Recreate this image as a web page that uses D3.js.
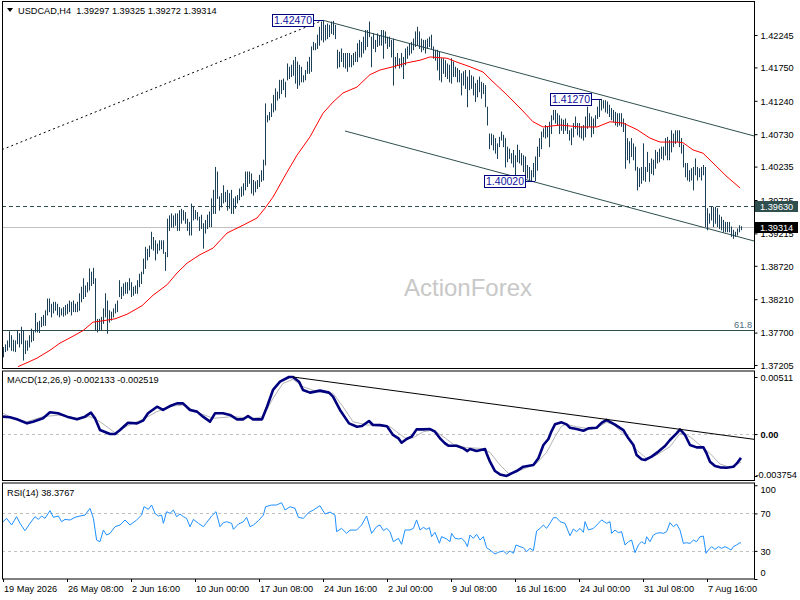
<!DOCTYPE html>
<html>
<head>
<meta charset="utf-8">
<script src="https://cdn.jsdelivr.net/npm/d3@7"></script>
<style>
  body { margin: 0; background: #fff; }
  svg { display: block; font-family: "Liberation Sans", Arial, sans-serif; }
</style>
</head>
<body>
<svg id="chart" width="800" height="600"></svg>
<script>
// ---- data (USDCAD H4, one entry per bar) ----
var highs = [
  1.3748,1.3752,1.3758,1.3772,1.3766,1.3759,1.3758,1.3774,1.3769,1.3779,
  1.3774,1.3758,1.3758,1.3766,1.3776,1.3774,1.3800,1.3786,1.3788,1.3794,
  1.3797,1.3804,1.3822,1.3822,1.3814,1.3817,1.3817,1.3814,1.3809,1.3807,
  1.3809,1.3812,1.3814,1.3819,1.3817,1.3819,1.3814,1.3817,1.3830,1.3840,
  1.3853,1.3842,1.3847,1.3868,1.3863,1.3869,1.3853,1.3791,1.3791,1.3794,
  1.3807,1.3830,1.3819,1.3804,1.3802,1.3807,1.3814,1.3819,1.3850,1.3840,
  1.3845,1.3847,1.3847,1.3853,1.3847,1.3840,1.3842,1.3850,1.3860,1.3863,
  1.3883,1.3901,1.3898,1.3903,1.3924,1.3916,1.3911,1.3906,1.3911,1.3911,
  1.3911,1.3893,1.3944,1.3949,1.3952,1.3949,1.3952,1.3952,1.3957,1.3959,
  1.3957,1.3954,1.3944,1.3939,1.3967,1.3962,1.3957,1.3954,1.3947,1.3950,
  1.3937,1.3942,1.3950,1.3955,1.3975,1.3988,1.4023,1.4016,1.3978,1.3983,
  1.3995,1.3985,1.3988,1.3983,1.3988,1.3975,1.3978,1.3980,1.3990,1.3993,
  1.3998,1.4016,1.4016,1.4016,1.4013,1.4003,1.4001,1.4003,1.4011,1.4018,
  1.4034,1.4120,1.4102,1.4107,1.4120,1.4133,1.4143,1.4138,1.4156,1.4156,
  1.4158,1.4153,1.4181,1.4176,1.4179,1.4186,1.4191,1.4184,1.4179,1.4176,
  1.4163,1.4171,1.4184,1.4191,1.4207,1.4214,1.4212,1.4225,1.4237,1.4245,
  1.4247,1.4240,1.4242,1.4240,1.4245,1.4246,1.4240,1.4202,1.4199,1.4204,
  1.4197,1.4197,1.4197,1.4197,1.4194,1.4197,1.4199,1.4212,1.4217,1.4214,
  1.4222,1.4232,1.4232,1.4245,1.4222,1.4227,1.4217,1.4227,1.4224,1.4232,
  1.4232,1.4230,1.4222,1.4222,1.4217,1.4219,1.4191,1.4197,1.4189,1.4197,
  1.4191,1.4204,1.4207,1.4212,1.4214,1.4219,1.4230,1.4237,1.4230,1.4219,
  1.4217,1.4217,1.4219,1.4222,1.4225,1.4207,1.4202,1.4202,1.4199,1.4189,
  1.4189,1.4186,1.4181,1.4179,1.4189,1.4184,1.4176,1.4174,1.4171,1.4166,
  1.4169,1.4171,1.4161,1.4171,1.4163,1.4161,1.4151,1.4156,1.4161,1.4153,
  1.4151,1.4148,1.4115,1.4074,1.4074,1.4072,1.4067,1.4059,1.4069,1.4077,
  1.4072,1.4067,1.4054,1.4051,1.4044,1.4049,1.4041,1.4057,1.4049,1.4044,
  1.4041,1.4039,1.4026,1.4023,1.4018,1.4029,1.4039,1.4054,1.4067,1.4077,
  1.4082,1.4087,1.4085,1.4092,1.4102,1.4110,1.4110,1.4105,1.4102,1.4097,
  1.4095,1.4097,1.4090,1.4079,1.4082,1.4090,1.4100,1.4090,1.4090,1.4085,
  1.4087,1.4100,1.4115,1.4105,1.4100,1.4097,1.4102,1.4115,1.4125,1.4127,
  1.4125,1.4125,1.4123,1.4118,1.4113,1.4110,1.4107,1.4105,1.4105,1.4105,
  1.4097,1.4090,1.4067,1.4062,1.4067,1.4059,1.4054,1.4023,1.4021,1.4023,
  1.4059,1.4023,1.4046,1.4029,1.4036,1.4034,1.4049,1.4046,1.4051,1.4054,
  1.4054,1.4067,1.4069,1.4064,1.4079,1.4074,1.4079,1.4079,1.4079,1.4067,
  1.4057,1.4029,1.4029,1.4018,1.4021,1.4023,1.4036,1.4023,1.4021,1.4023,
  1.4026,1.4023,1.3960,1.3952,1.3962,1.3962,1.3962,1.3960,1.3950,1.3947,
  1.3942,1.3939,1.3939,1.3939,1.3932,1.3927,1.3924,1.3929,1.3934,1.39325
];
var lows = [
  1.3733,1.3741,1.3743,1.3748,1.3743,1.3742,1.3741,1.3753,1.3748,1.3753,
  1.3728,1.3738,1.3743,1.3748,1.3756,1.3758,1.3771,1.3771,1.3770,1.3779,
  1.3781,1.3781,1.3797,1.3802,1.3794,1.3800,1.3804,1.3797,1.3794,1.3797,
  1.3795,1.3797,1.3799,1.3802,1.3797,1.3802,1.3802,1.3802,1.3804,1.3817,
  1.3822,1.3825,1.3832,1.3835,1.3842,1.3845,1.3774,1.3771,1.3774,1.3774,
  1.3784,1.3794,1.3769,1.3786,1.3789,1.3794,1.3800,1.3802,1.3825,1.3822,
  1.3827,1.3830,1.3830,1.3835,1.3825,1.3827,1.3830,1.3830,1.3840,1.3845,
  1.3860,1.3868,1.3881,1.3886,1.3898,1.3896,1.3881,1.3891,1.3896,1.3898,
  1.3891,1.3865,1.3886,1.3926,1.3931,1.3931,1.3934,1.3926,1.3926,1.3937,
  1.3942,1.3937,1.3926,1.3919,1.3919,1.3942,1.3944,1.3942,1.3926,1.3929,
  1.3899,1.3922,1.3929,1.3932,1.3932,1.3952,1.3952,1.3975,1.3957,1.3962,
  1.3968,1.3970,1.3957,1.3960,1.3952,1.3952,1.3960,1.3968,1.3973,1.3978,
  1.3980,1.3988,1.3993,1.3998,1.3983,1.3980,1.3985,1.3990,1.3993,1.4001,
  1.4003,1.4026,1.4092,1.4095,1.4100,1.4107,1.4110,1.4125,1.4128,1.4135,
  1.4141,1.4130,1.4156,1.4158,1.4161,1.4163,1.4151,1.4143,1.4148,1.4153,
  1.4153,1.4156,1.4166,1.4166,1.4169,1.4202,1.4202,1.4204,1.4209,1.4217,
  1.4214,1.4217,1.4219,1.4222,1.4227,1.4225,1.4219,1.4174,1.4176,1.4184,
  1.4176,1.4174,1.4169,1.4176,1.4176,1.4179,1.4184,1.4184,1.4191,1.4191,
  1.4197,1.4202,1.4207,1.4222,1.4176,1.4204,1.4199,1.4207,1.4209,1.4209,
  1.4189,1.4212,1.4204,1.4207,1.4191,1.4148,1.4174,1.4179,1.4174,1.4176,
  1.4158,1.4179,1.4189,1.4194,1.4197,1.4202,1.4207,1.4209,1.4204,1.4199,
  1.4202,1.4197,1.4204,1.4207,1.4204,1.4189,1.4186,1.4171,1.4156,1.4153,
  1.4166,1.4161,1.4158,1.4153,1.4151,1.4161,1.4161,1.4153,1.4153,1.4133,
  1.4148,1.4143,1.4115,1.4141,1.4143,1.4133,1.4123,1.4130,1.4138,1.4128,
  1.4135,1.4115,1.4087,1.4051,1.4057,1.4049,1.4044,1.4036,1.4054,1.4064,
  1.4054,1.4023,1.4031,1.4036,1.4029,1.4023,1.4008,1.4031,1.4029,1.4026,
  1.4016,1.4011,1.4006,1.4003,1.4002,1.4008,1.4002,1.4018,1.4039,1.4051,
  1.4069,1.4067,1.4069,1.4054,1.4074,1.4095,1.4090,1.4087,1.4074,1.4079,
  1.4074,1.4079,1.4074,1.4064,1.4057,1.4069,1.4082,1.4072,1.4069,1.4067,
  1.4064,1.4069,1.4082,1.4085,1.4069,1.4074,1.4085,1.4097,1.4100,1.4110,
  1.4113,1.4107,1.4105,1.4100,1.4095,1.4092,1.4087,1.4085,1.4087,1.4085,
  1.4077,1.4021,1.4034,1.4029,1.4039,1.4034,1.4018,1.3988,1.3993,1.3998,
  1.4003,1.4001,1.4016,1.4001,1.4013,1.4011,1.4021,1.4029,1.4031,1.4036,
  1.4034,1.4041,1.4034,1.4034,1.4046,1.4054,1.4059,1.4062,1.4054,1.4044,
  1.4023,1.4008,1.4003,1.4001,1.4003,1.3988,1.4011,1.4003,1.4008,1.4003,
  1.4011,1.3932,1.3927,1.3937,1.3942,1.3932,1.3937,1.3932,1.3929,1.3927,
  1.3924,1.3924,1.3924,1.3924,1.3917,1.3914,1.3917,1.3919,1.3924,1.39272
];

// moving average, [bar, price]
var maLine = [[7.5,1.3718],[12,1.3724],[17,1.3731],[23.5,1.3743],[28.5,1.3754],[33.5,1.3762],[40,1.3773],[45,1.3786],[50,1.3788],[56,1.3791],[62,1.3798],[69.5,1.3811],[75,1.3827],[82,1.3843],[87,1.3861],[92,1.3876],[98.5,1.3889],[105,1.3899],[112,1.3922],[120,1.3934],[127,1.3945],[131,1.3960],[135,1.3977],[142,1.4015],[147,1.4041],[153.5,1.4069],[160,1.4105],[165,1.4122],[170,1.4136],[177,1.4145],[183.5,1.4164],[188.5,1.4171],[195,1.4176],[202,1.4182],[208.5,1.4186],[213.5,1.4191],[222,1.4189],[227,1.4183],[233.5,1.4176],[240,1.4168],[245,1.4153],[252,1.4133],[258.5,1.4113],[265,1.4092],[270,1.4084],[278.5,1.4087],[288.5,1.4084],[297,1.4084],[303.5,1.4092],[310,1.4090],[317,1.4080],[323.5,1.4067],[328.5,1.4061],[337,1.4061],[340,1.4060],[345,1.4049],[350,1.4044],[355,1.4029],[362,1.4008],[368.5,1.3991]];

// MACD(12,26,9), [bar, value]
var macdMain = [[0,0.00156],[3.5,0.00150],[7,0.00132],[12,0.00096],[15,0.00111],[20,0.00141],[23.5,0.00195],[27.5,0.00186],[32,0.00156],[37,0.00132],[41,0.00156],[44,0.00192],[46,0.00141],[48.5,0.00036],[53.5,0.0000],[56,0.0000],[58.5,0.00036],[62.5,0.00102],[67,0.00096],[70,0.00120],[72.5,0.00186],[77,0.00245],[80,0.00216],[83.5,0.00251],[87,0.00275],[90,0.00275],[93.5,0.00216],[97,0.00201],[100,0.00156],[103.5,0.00111],[106,0.00186],[110,0.00186],[113.5,0.00171],[117,0.00132],[120,0.00132],[122.5,0.00162],[125,0.00132],[129.5,0.00132],[132,0.00245],[135,0.00395],[138.5,0.00469],[143,0.00511],[145,0.00511],[148,0.00469],[150,0.00395],[153.5,0.00371],[158.5,0.00389],[163,0.00371],[165,0.00335],[168.5,0.00216],[173,0.00096],[177,0.00066],[179.5,0.00072],[183,0.00117],[185,0.00081],[188.5,0.00080],[192,0.00070],[195,-0.00008],[197.7,-0.00038],[199.3,-0.00077],[201.8,-0.00044],[204.3,-0.00023],[206.8,0.00042],[210.2,0.00042],[213.5,0.00045],[216,0.00021],[218.5,-0.00038],[221,-0.00083],[222.7,-0.00104],[226.8,-0.00104],[230.2,-0.00128],[232.2,-0.00152],[233.5,-0.00134],[236.8,-0.00152],[241,-0.00134],[241.8,-0.00173],[243.5,-0.00247],[246,-0.00331],[248.5,-0.00361],[251.8,-0.00375],[254.3,-0.00352],[256.8,-0.00331],[260.2,-0.00292],[265.2,-0.00277],[267.7,-0.00217],[270.2,-0.00098],[272.7,-0.00044],[274.3,0.00027],[276,0.00087],[279.3,0.00105],[281.8,0.00087],[283.5,0.00057],[286.8,0.00045],[290.2,0.00030],[292.7,0.00051],[296.8,0.00057],[299.3,0.00100],[301.8,0.00128],[303.5,0.00110],[306,0.00085],[310.2,0.00036],[312.7,-0.00038],[315.2,-0.00098],[316.8,-0.00188],[319.3,-0.00226],[321,-0.00232],[324.3,-0.00202],[327.7,-0.00157],[331,-0.00107],[333.5,-0.00053],[336.8,0.00006],[338.5,0.00042],[341,-0.00008],[343.5,-0.00098],[346.8,-0.00119],[350.2,-0.00119],[351.8,-0.00173],[353.5,-0.00247],[356,-0.00286],[358.5,-0.00298],[361.8,-0.00301],[365.2,-0.00292],[366.8,-0.00265],[369,-0.00213]];
var macdSignal = [[0,0.00186],[5,0.00141],[12,0.00111],[20,0.00156],[28.5,0.00171],[37,0.00141],[43.5,0.00156],[48.5,0.00111],[56,0.00012],[62,0.00072],[70,0.00132],[77,0.00201],[85,0.00251],[90,0.00260],[98.5,0.00186],[105,0.00141],[115,0.00156],[125,0.00141],[130,0.00156],[135,0.00320],[140,0.00454],[145,0.00490],[150,0.00424],[157,0.00380],[165,0.00365],[170,0.00245],[175,0.00111],[182,0.00081],[188.5,0.00080],[193.5,0.00066],[196.8,0.00021],[201.8,-0.00044],[205.2,-0.00032],[210.2,0.00021],[215.2,0.00036],[220.2,-0.00023],[225.2,-0.00092],[231.8,-0.00122],[238.5,-0.00128],[243.5,-0.00164],[248.5,-0.00277],[252.7,-0.00352],[256.8,-0.00337],[261.8,-0.00301],[266.8,-0.00262],[271.8,-0.00164],[276,-0.00023],[279.3,0.00072],[281.8,0.00087],[286.8,0.00066],[291.8,0.00051],[296.8,0.00057],[301.8,0.00105],[305.2,0.00085],[311.8,-0.00024],[316.8,-0.00143],[321.8,-0.00218],[326.8,-0.00188],[333.5,-0.00113],[338.5,0.00006],[343.5,-0.00024],[348.5,-0.00098],[353.5,-0.00173],[358.5,-0.00268],[363.5,-0.00298],[369,-0.00252]];

// RSI(14), [bar, value]
var rsiLine = [[0,61.1],[1.8,64.7],[4.3,57.6],[6.8,66.5],[8.5,59.4],[11,51.5],[13.5,59.4],[16,66.5],[17.7,63.6],[19.3,67.2],[21,64.7],[23.5,72.9],[25.2,65.8],[27.7,67.2],[29.3,61.1],[31,63.6],[33.5,62.9],[36,65.8],[38.5,67.2],[41,68.2],[43.5,75.4],[45.2,64.7],[46.8,41.6],[48.5,39.8],[50.2,52.2],[51.8,46.9],[53.5,48.7],[56,55.8],[58.5,57.6],[61,62.9],[63.5,57.6],[66.8,62.9],[69.3,68.2],[70.5,77.1],[72.7,74.3],[74.3,78.9],[76,70.0],[77.7,67.2],[79.3,68.2],[80.2,59.4],[81.8,71.8],[83.5,70.0],[85.2,73.6],[86.8,66.5],[88.5,69.3],[90.2,66.5],[91.8,64.7],[93.5,55.8],[95.2,63.6],[97.7,59.4],[100.2,55.8],[101.8,60.1],[104.3,67.2],[106.5,71.8],[108.5,55.8],[110.2,60.1],[111.8,61.1],[114.3,59.4],[115.2,53.0],[117.7,58.6],[120.2,61.1],[121.8,65.8],[123.5,55.8],[125.2,57.6],[127.7,62.2],[130.2,68.2],[131.3,77.1],[134.3,78.9],[136.8,78.9],[139.3,81.4],[141,73.6],[143.5,77.1],[146,75.4],[147.7,65.8],[150.2,64.7],[152.7,70.7],[155.2,73.6],[158.5,78.2],[161,69.3],[163.5,71.4],[166,68.2],[166.8,50.5],[169.3,54.0],[171.8,48.7],[173.5,52.2],[176.8,52.2],[179.3,57.6],[181.8,67.2],[184.3,48.7],[186.8,55.8],[188.5,57.6],[190.2,51.6],[191.8,54.0],[193.5,50.5],[195.2,39.8],[197.7,43.4],[199.3,37.0],[201,52.3],[203.5,52.3],[205.2,54.0],[206.8,63.0],[208.5,52.3],[210.2,55.1],[211.8,53.0],[213.2,54.8],[214.3,45.2],[216,49.8],[218.2,38.1],[219.3,45.2],[221.8,42.7],[223.5,39.8],[224.3,48.7],[226,43.4],[227.7,42.7],[229.3,43.4],[231,39.8],[232.2,34.5],[233.5,46.9],[235.2,43.4],[236.8,47.7],[238.5,41.6],[240.2,45.2],[241.8,33.4],[243.5,30.9],[246,26.7],[247.7,28.5],[250.2,29.9],[251.8,26.7],[253.5,29.9],[255.2,27.4],[256.5,36.3],[258.5,34.5],[260.2,33.4],[261.8,29.2],[263.5,32.7],[265.2,30.2],[266.8,51.2],[268.5,54.0],[270.2,57.6],[271.8,54.0],[273.5,59.4],[275.2,65.4],[276.8,65.4],[278.5,61.2],[281,59.4],[283.5,46.2],[285.2,53.3],[286.8,50.5],[288.5,54.0],[290.2,49.8],[291,61.2],[292.7,52.3],[295.2,54.0],[297.7,59.4],[299.3,63.0],[301.8,59.4],[303.5,61.2],[304.3,48.7],[306,52.2],[307.7,49.4],[309.3,50.5],[311,36.3],[312.7,39.8],[314.3,41.6],[316,28.1],[317.7,36.3],[319.3,39.8],[321,37.3],[321.8,45.1],[323.5,39.8],[325.2,46.9],[326.8,48.7],[328.5,49.4],[330.2,48.7],[331.8,50.5],[333.5,60.1],[335.2,55.8],[336.8,58.6],[338.5,52.2],[340.2,38.0],[341.8,38.7],[343.5,38.0],[345.2,41.6],[346.8,39.8],[348.5,45.1],[350.2,45.8],[351.5,27.4],[352.7,30.9],[354.3,34.5],[356,31.6],[357.7,34.5],[359.3,32.7],[361,34.5],[362.7,32.7],[364,30.9],[365.2,34.5],[366.8,36.3],[368.5,38.7],[369,38.38]];

// drawn objects on the chart
var dottedLine = [[-0.5, 1.40494], [160, 1.42470]];
var upperChannel = [[160, 1.42470], [375.5, 1.40703]];
var lowerChannel = [[171, 1.40779], [375.5, 1.39099]];
var macdTrend = [[145, 0.00511], [375.5, -0.00047]];
var fibLevel = 1.3774;
var levelLine = 1.39630;
var lastPrice = 1.39314;
var peakLabels = [[160, 1.42470], [299, 1.41270], [266, 1.40020]];

// axes
var priceTicks = [1.37205, 1.37700, 1.38210, 1.38720, 1.39215, 1.39725, 1.40235, 1.40730, 1.41240, 1.41750, 1.42245];
var macdTicks = [0.00511, 0, -0.003754];
var rsiTicks = [100, 70, 30, 0];
var xTickBars = [0, 32, 64, 96, 128, 160, 192, 224, 256, 288, 320, 352];
var xTickLabels = ['19 May 2026', '26 May 08:00', '2 Jun 16:00', '10 Jun 00:00', '17 Jun 08:00', '24 Jun 16:00',
                   '2 Jul 00:00', '9 Jul 08:00', '16 Jul 16:00', '24 Jul 00:00', '31 Jul 08:00', '7 Aug 16:00'];

var fontSize = 9.2;
var barColor = '#1b3f57';
var slate = '#2f4f4f';

var svg = d3.select('#chart');
var left = 2, right = 754;
var pMain = { top: 1, bottom: 368.5 };
var pMacd = { top: 370.5, bottom: 480.5 };
var pRsi = { top: 482.5, bottom: 579 };

var x = d3.scaleLinear().domain([0, 32]).range([3, 67]);
var y = d3.scaleLinear().domain([1.37205, 1.42245]).range([365, 35]);
var yMacd = d3.scaleLinear().domain([-0.003754, 0.00511]).range([476, 377]);
var yRsi = d3.scaleLinear().domain([0, 100]).range([579, 485.25]);

svg.append('rect').attr('width', 800).attr('height', 600).attr('fill', '#fff');

// clip paths for each pane
var defs = svg.append('defs');
[['clipMain', pMain], ['clipMacd', pMacd], ['clipRsi', pRsi]].forEach(function (c) {
  defs.append('clipPath').attr('id', c[0]).append('rect')
    .attr('x', left).attr('y', c[1].top).attr('width', right - left).attr('height', c[1].bottom - c[1].top);
});

var gMain = svg.append('g').attr('clip-path', 'url(#clipMain)');
var gMacd = svg.append('g').attr('clip-path', 'url(#clipMacd)');
var gRsi = svg.append('g').attr('clip-path', 'url(#clipRsi)');

// watermark
gMain.append('text')
  .attr('x', 468).attr('y', 296)
  .attr('text-anchor', 'middle')
  .style('font-size', '24px')
  .attr('fill', '#c8c8c8')
  .text('ActionForex');

function seg(g, pts, sy) {
  return g.append('line')
    .attr('x1', x(pts[0][0])).attr('y1', sy(pts[0][1]))
    .attr('x2', x(pts[1][0])).attr('y2', sy(pts[1][1]));
}

// horizontal levels
gMain.append('line').attr('x1', left).attr('x2', right)
  .attr('y1', Math.round(y(fibLevel)) + 0.5).attr('y2', Math.round(y(fibLevel)) + 0.5)
  .attr('stroke', slate).attr('stroke-width', 1);
gMain.append('line').attr('x1', left).attr('x2', right)
  .attr('y1', Math.round(y(lastPrice)) + 0.5).attr('y2', Math.round(y(lastPrice)) + 0.5)
  .attr('stroke', '#c0c0c0').attr('stroke-width', 1);
gMain.append('line').attr('x1', left).attr('x2', right)
  .attr('y1', Math.round(y(levelLine)) + 0.5).attr('y2', Math.round(y(levelLine)) + 0.5)
  .attr('stroke', slate).attr('stroke-width', 1).attr('stroke-dasharray', '4,3');

// trend lines
seg(gMain, dottedLine, y).attr('stroke', '#000').attr('stroke-width', 1).attr('stroke-dasharray', '2,3');
seg(gMain, upperChannel, y).attr('stroke', slate).attr('stroke-width', 1);
seg(gMain, lowerChannel, y).attr('stroke', slate).attr('stroke-width', 1);

// price bars (high-low)
gMain.append('g').selectAll('line').data(highs).join('line')
  .attr('x1', function (d, i) { return Math.round(x(i)) + 0.5; })
  .attr('x2', function (d, i) { return Math.round(x(i)) + 0.5; })
  .attr('y1', function (d) { return y(d); })
  .attr('y2', function (d, i) { return y(lows[i]) + 0.5; })
  .attr('stroke', barColor).attr('stroke-width', 1);

// moving average
gMain.append('path').datum(maLine)
  .attr('d', d3.line().x(function (d) { return x(d[0]); }).y(function (d) { return y(d[1]); }))
  .attr('fill', 'none').attr('stroke', '#ff0000').attr('stroke-width', 1);

// swing labels
peakLabels.forEach(function (p) {
  var cx = x(p[0]), cy = Math.round(y(p[1]));
  var t = gMain.append('text')
    .attr('x', cx - 11).attr('y', cy + 4)
    .attr('text-anchor', 'end')
    .style('font-size', '10.5px')
    .attr('fill', '#1010a0')
    .text(p[1].toFixed(5));
  var bb = t.node().getBBox();
  gMain.insert('rect', function () { return t.node(); })
    .attr('x', Math.round(bb.x - 2) + 0.5).attr('y', cy - 6 + 0.5)
    .attr('width', Math.round(bb.width + 3)).attr('height', 12)
    .attr('fill', '#fff').attr('stroke', '#000080').attr('stroke-width', 1);
  gMain.append('line')
    .attr('x1', cx - 9).attr('x2', cx).attr('y1', cy + 0.5).attr('y2', cy + 0.5)
    .attr('stroke', '#000080').attr('stroke-width', 1);
});

gMain.append('text').attr('x', 752).attr('y', 327.5).attr('text-anchor', 'end')
  .style('font-size', fontSize + 'px').attr('fill', '#4a6a7a').text('61.8');

// MACD pane
gMacd.append('line').attr('x1', left).attr('x2', right)
  .attr('y1', Math.round(yMacd(0)) + 0.5).attr('y2', Math.round(yMacd(0)) + 0.5)
  .attr('stroke', '#c0c0c0').attr('stroke-dasharray', '3,3');
gMacd.append('path').datum(macdSignal)
  .attr('d', d3.line().x(function (d) { return x(d[0]); }).y(function (d) { return yMacd(d[1]); }))
  .attr('fill', 'none').attr('stroke', '#b4b4b4').attr('stroke-width', 1);
gMacd.append('path').datum(macdMain)
  .attr('d', d3.line().x(function (d) { return x(d[0]); }).y(function (d) { return yMacd(d[1]); }))
  .attr('fill', 'none').attr('stroke', '#00007f').attr('stroke-width', 2.6).attr('stroke-linejoin', 'round');
seg(gMacd, macdTrend, yMacd).attr('stroke', '#000').attr('stroke-width', 1);

// RSI pane
[70, 30].forEach(function (v) {
  gRsi.append('line').attr('x1', left).attr('x2', right)
    .attr('y1', Math.round(yRsi(v)) + 0.5).attr('y2', Math.round(yRsi(v)) + 0.5)
    .attr('stroke', '#c0c0c0').attr('stroke-dasharray', '3,3');
});
gRsi.append('path').datum(rsiLine)
  .attr('d', d3.line().x(function (d) { return x(d[0]); }).y(function (d) { return yRsi(d[1]); }))
  .attr('fill', 'none').attr('stroke', '#1e90ff').attr('stroke-width', 1);

// pane frames
[pMain, pMacd, pRsi].forEach(function (p) {
  svg.append('rect')
    .attr('x', left + 0.5).attr('y', p.top + 0.5)
    .attr('width', right - left).attr('height', p.bottom - p.top - 0.5)
    .attr('fill', 'none').attr('stroke', '#000').attr('stroke-width', 1);
});

// right axes
function rightAxis(scale, values, fmt, p) {
  var g = svg.append('g').attr('transform', 'translate(' + (right + 0.5) + ',0)')
    .call(d3.axisRight(scale).tickValues(values).tickFormat(fmt).tickSize(3).tickPadding(3).tickSizeOuter(0));
  g.select('.domain').remove();
  g.attr('font-size', null).attr('font-family', null).style('font-size', fontSize + 'px');
  g.selectAll('.tick line').attr('stroke', '#000');
  g.selectAll('.tick text').attr('fill', '#000').attr('dy', '0.36em')
    .attr('y', function (d) {
      var py = scale(d);
      var c = Math.max(p.top + 6.5, Math.min(p.bottom - 6.5, py));
      return c - py;
    });
  return g;
}
rightAxis(y, priceTicks, d3.format('.5f'), { top: 0, bottom: 372 });
var gm = rightAxis(yMacd, macdTicks, function (d) { return d === 0 ? '0.00' : (d < -0.0037 ? '-0.003754' : '0.00511'); }, pMacd);
gm.selectAll('.tick text').filter(function (d) { return d === 0; }).style('font-weight', 'bold');
gm.selectAll('.tick text').filter(function (d) { return d < 0; }).attr('x', 1);
rightAxis(yRsi, rsiTicks, d3.format('d'), pRsi);

// price tags on the axis
function priceTag(v, fill) {
  var cy = Math.round(y(v));
  svg.append('rect').attr('x', right + 1).attr('y', cy - 5).attr('width', 43).attr('height', 11).attr('fill', fill);
  svg.append('text').attr('x', right + 6).attr('y', cy + 3.5)
    .style('font-size', fontSize + 'px').attr('fill', '#fff').text(v.toFixed(5));
}
priceTag(levelLine, slate);
priceTag(lastPrice, '#000');

// bottom time axis
var gx = svg.append('g').attr('transform', 'translate(0,' + pRsi.bottom + ')')
  .call(d3.axisBottom(x).tickValues(xTickBars).tickFormat(function (d, i) { return xTickLabels[i]; })
    .tickSize(3).tickPadding(3).tickSizeOuter(0));
gx.select('.domain').remove();
gx.attr('font-size', null).attr('font-family', null).style('font-size', fontSize + 'px');
gx.selectAll('.tick line').attr('stroke', '#000');
gx.selectAll('.tick text').attr('fill', '#000').attr('text-anchor', 'start').attr('x', 0.5);

// pane titles
svg.append('path').attr('d', 'M7,8 L13,8 L10,12 Z').attr('fill', '#000');
svg.append('text').attr('x', 18).attr('y', 14).style('font-size', fontSize + 'px').style('white-space', 'pre')
  .text('USDCAD,H4  1.39297 1.39325 1.39272 1.39314');
svg.append('text').attr('x', 7).attr('y', 383).style('font-size', fontSize + 'px')
  .text('MACD(12,26,9) -0.002133 -0.002519');
svg.append('text').attr('x', 7).attr('y', 496).style('font-size', fontSize + 'px')
  .text('RSI(14) 38.3767');
</script>
</body>
</html>
